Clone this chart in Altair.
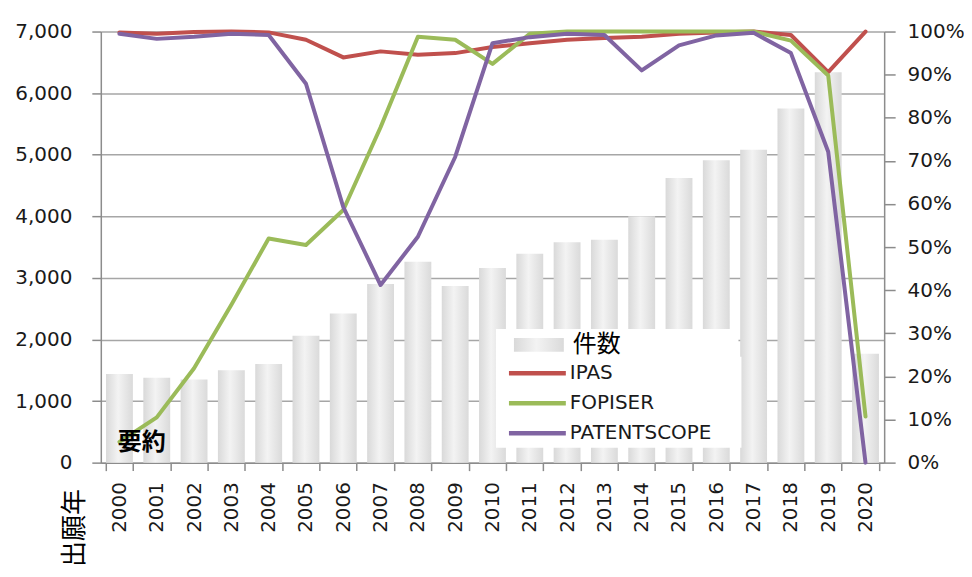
import altair as alt
import pandas as pd

years = [str(y) for y in range(2000, 2021)]
counts = [1440, 1380, 1350, 1500, 1600, 2060, 2420, 2900, 3260, 2870, 3160,
          3390, 3580, 3620, 4000, 4620, 4910, 5080, 5750, 6340, 1770]
ipas = [99.8, 99.5, 99.9, 100, 99.8, 98.1, 94.0, 95.4, 94.6, 95.0, 96.4,
        97.3, 98.1, 98.5, 98.8, 99.5, 99.8, 100, 99.2, 90.6, 100]
fopiser = [4.8, 10.5, 21.9, 36.6, 52.0, 50.5, 58.6, 77.8, 98.8, 98.1, 92.5,
           99.5, 100, 100, 100, 100, 100, 100, 97.9, 89.8, 10.7]
patentscope = [99.5, 98.3, 98.8, 99.5, 99.2, 87.9, 59.3, 41.2, 52.4, 70.9, 97.3,
               98.7, 99.5, 99.2, 91.0, 96.8, 99.1, 99.7, 95.0, 72.1, 0]

series_names = ["IPAS", "FOPISER", "PATENTSCOPE"]
series_colors = ["#c0504d", "#9bbb59", "#8064a2"]
left_ticks = [0, 1000, 2000, 3000, 4000, 5000, 6000, 7000]
right_ticks = [0, 10, 20, 30, 40, 50, 60, 70, 80, 90, 100]

bars_df = pd.DataFrame({"year": years, "count": counts, "kind": "件数"})
lines_df = pd.concat([
    pd.DataFrame({"year": years, "pct": vals, "series": name, "order": i})
    for i, (name, vals) in enumerate(zip(series_names, [ipas, fopiser, patentscope]))
])

FONT = "DejaVu Sans"
TXT = "#1a1a1a"

x_enc = alt.X(
    "year:O",
    scale=alt.Scale(paddingInner=0.28, paddingOuter=0.14),
    axis=alt.Axis(
        title="出願年", titleFont="Noto Sans CJK JP", titleFontSize=26,
        titleFontWeight="normal", titleColor="#000000", titleAngle=270,
        titleX=-26, titleY=65, titleAlign="center", titleBaseline="middle",
        labelAngle=270, labelFontSize=20, labelColor=TXT, labelPadding=11,
        tickSize=8, tickBand="extent", tickColor="#8c8c8c", tickWidth=1.5,
        domainColor="#8c8c8c", domainWidth=1.5, grid=False,
    ),
)

gradient = alt.LinearGradient(
    gradient="linear", x1=0, x2=1, y1=0, y2=0,
    stops=[alt.GradientStop(color="#d9d9d9", offset=0),
           alt.GradientStop(color="#f3f3f3", offset=0.45),
           alt.GradientStop(color="#dadada", offset=1)],
)

bars = alt.Chart(bars_df).mark_bar(color=gradient).encode(
    x=x_enc,
    y=alt.Y(
        "count:Q",
        scale=alt.Scale(domain=[0, 7000], nice=False),
        axis=alt.Axis(
            title=None, values=left_ticks, format=",.0f", labelFontSize=20,
            labelColor=TXT, labelPadding=20, tickSize=9, tickColor="#8c8c8c",
            tickWidth=1.5, domainColor="#8c8c8c", domainWidth=1.5,
            grid=True, gridColor="#a6a6a6", gridWidth=1.5,
        ),
    ),
    opacity=alt.Opacity(
        "kind:N",
        scale=alt.Scale(domain=["件数"], range=[1]),
        legend=alt.Legend(
            title="MMMMMM", titleOrient="right", titleFontSize=19,
            titleColor="#ffffff", titlePadding=0, titleLimit=600,
            orient="none", legendX=396, legendY=298,
            fillColor="#ffffff", padding=4, symbolOffset=27,
            symbolType="M-2.5,-0.7H2.5V0.7H-2.5Z", symbolSize=400,
            symbolFillColor="#e3e3e3", symbolStrokeWidth=0,
            labelFont="Noto Sans CJK JP", labelFontSize=24, labelColor="#000000",
            labelOffset=22,
        ),
    ),
)

lines = alt.Chart(lines_df).mark_line(strokeWidth=4, strokeJoin="round", strokeCap="round").encode(
    x=x_enc,
    y=alt.Y(
        "pct:Q",
        scale=alt.Scale(domain=[0, 100], nice=False),
        axis=alt.Axis(
            title=None, orient="right", values=right_ticks,
            labelExpr="datum.value + '%'", labelFontSize=20, labelColor=TXT,
            labelPadding=12, tickSize=11, tickColor="#8c8c8c", tickWidth=1.5,
            domainColor="#8c8c8c", domainWidth=1.5, grid=False,
        ),
    ),
    color=alt.Color(
        "series:N",
        scale=alt.Scale(domain=series_names, range=series_colors),
        legend=alt.Legend(
            title="MM", titleOrient="right", titleFontSize=13,
            titleColor="#ffffff", titlePadding=0, titleLimit=600,
            orient="none", legendX=396, legendY=326,
            fillColor="#ffffff", padding=4, symbolOffset=25,
            symbolType="M-2.85,0H2.85", symbolSize=400, symbolStrokeWidth=4.5,
            labelFontSize=20, labelColor=TXT, labelOffset=20, rowPadding=7,
        ),
    ),
    order="order:Q",
)

label = alt.Chart(pd.DataFrame({"t": ["要約"]})).mark_text(
    font="Noto Sans CJK JP", fontSize=24, fontWeight="bold", color="#000000",
    align="left", baseline="middle",
).encode(x=alt.value(17), y=alt.value(412), text="t:N")

chart = alt.layer(bars, lines, label).resolve_scale(y="independent").properties(
    width=785, height=432,
    autosize=alt.AutoSizeParams(type="none"),
    padding={"left": 93, "top": 23, "right": 80, "bottom": 110},
).configure(font=FONT).configure_view(strokeWidth=0)

chart.save("out.html", embed_options={"renderer": "svg", "actions": False})
